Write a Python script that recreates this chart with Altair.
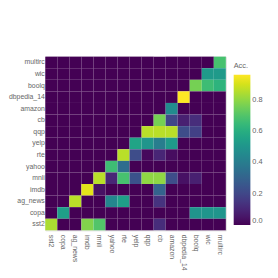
import altair as alt
import pandas as pd

tasks_x = ["sst2", "copa", "ag_news", "imdb", "mnli", "yahoo", "rte", "yelp",
           "qqp", "cb", "amazon", "dbpedia_14", "boolq", "wic", "multirc"]
tasks_y = ["multirc", "wic", "boolq", "dbpedia_14", "amazon", "cb", "qqp", "yelp",
           "rte", "yahoo", "mnli", "imdb", "ag_news", "copa", "sst2"]

# accuracy per row (y task), columns in tasks_x order
acc_multirc    = [0, 0, 0, 0, 0, 0, 0, 0, 0, 0, 0, 0, 0, 0, 0.68]
acc_wic        = [0, 0, 0, 0, 0, 0, 0, 0, 0, 0, 0, 0, 0, 0.52, 0.52]
acc_boolq      = [0, 0, 0, 0, 0, 0, 0, 0, 0, 0, 0, 0, 0.76, 0.66, 0.62]
acc_dbpedia_14 = [0, 0, 0, 0, 0, 0, 0, 0, 0, 0, 0, 0.96, 0, 0, 0]
acc_amazon     = [0, 0, 0, 0, 0, 0, 0, 0, 0, 0, 0.46, 0, 0, 0, 0]
acc_cb         = [0, 0, 0, 0, 0, 0, 0, 0, 0, 0.76, 0.2, 0.08, 0.12, 0, 0]
acc_qqp        = [0, 0, 0, 0, 0, 0, 0, 0, 0.86, 0.86, 0.86, 0.22, 0.18, 0, 0]
acc_yelp       = [0, 0, 0, 0, 0, 0, 0, 0.56, 0.5, 0.4, 0.52, 0, 0, 0, 0]
acc_rte        = [0, 0, 0, 0, 0, 0, 0.86, 0.22, 0.02, 0.1, 0.03, 0, 0, 0, 0]
acc_yahoo      = [0, 0, 0, 0, 0, 0.66, 0.34, 0, 0, 0, 0, 0, 0, 0, 0]
acc_mnli       = [0, 0, 0, 0, 0.86, 0.1, 0.68, 0.24, 0.8, 0.8, 0.22, 0.04, 0.08, 0, 0]
acc_imdb       = [0, 0, 0, 0.92, 0.04, 0, 0, 0, 0, 0.3, 0, 0, 0, 0, 0]
acc_ag_news    = [0, 0, 0.86, 0, 0, 0.44, 0.54, 0, 0, 0.14, 0, 0, 0, 0, 0]
acc_copa       = [0, 0.54, 0, 0, 0, 0, 0, 0, 0, 0, 0, 0, 0.5, 0.5, 0.5]
acc_sst2       = [0.84, 0, 0, 0.78, 0.7, 0, 0, 0, 0, 0.12, 0, 0, 0, 0, 0]

rows = {
    "multirc": acc_multirc, "wic": acc_wic, "boolq": acc_boolq,
    "dbpedia_14": acc_dbpedia_14, "amazon": acc_amazon, "cb": acc_cb,
    "qqp": acc_qqp, "yelp": acc_yelp, "rte": acc_rte, "yahoo": acc_yahoo,
    "mnli": acc_mnli, "imdb": acc_imdb, "ag_news": acc_ag_news,
    "copa": acc_copa, "sst2": acc_sst2,
}

records = []
for ty, vals in rows.items():
    for tx, v in zip(tasks_x, vals):
        records.append({"x": tx, "y": ty, "acc": v})
df = pd.DataFrame(records)

FONT = "Liberation Sans"
GRAY = "#666"

chart = alt.Chart(df).mark_rect().encode(
    x=alt.X("x:N", sort=tasks_x, title=None,
            axis=alt.Axis(labelAngle=90, labelAlign="left", labelBaseline="middle",
                          labelColor=GRAY, labelFont=FONT, labelFontSize=7,
                          ticks=False, domain=False, labelPadding=4)),
    y=alt.Y("y:N", sort=tasks_y, title=None,
            axis=alt.Axis(labelColor=GRAY, labelFont=FONT, labelFontSize=7,
                          ticks=False, domain=False, labelPadding=1)),
    color=alt.Color("acc:Q", scale=alt.Scale(scheme="viridis"),
                    legend=alt.Legend(title="Acc.", titleFontWeight="normal",
                                      titleFont=FONT, titleFontSize=7.5,
                                      titleColor=GRAY, labelColor=GRAY,
                                      labelFont=FONT, labelFontSize=7.5,
                                      gradientLength=153, gradientThickness=17,
                                      tickCount=5, orient="none",
                                      legendX=192, legendY=6)),
).properties(
    width=184, height=177,
    autosize=alt.AutoSizeParams(type="none"),
    padding={"left": 38, "top": 47, "right": 45, "bottom": 45},
).configure_view(stroke="#ddd")

chart.save("out.html", embed_options={"renderer": "svg", "actions": False})
